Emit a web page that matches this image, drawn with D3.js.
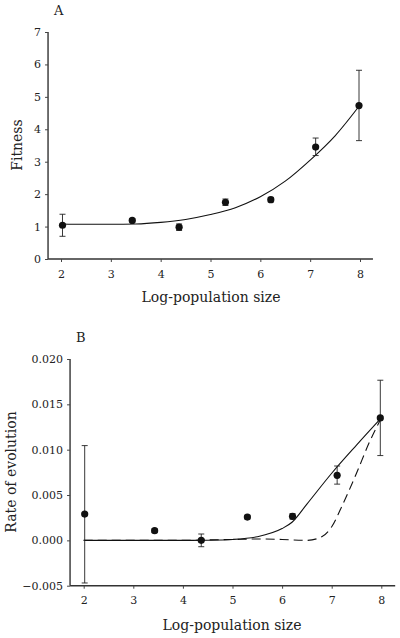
<!DOCTYPE html>
<html><head><meta charset="utf-8">
<script src="https://cdn.jsdelivr.net/npm/d3@7"></script>
<style>body{margin:0;background:#fff}svg{display:block}text{font-family:"DejaVu Serif","Liberation Serif",serif;fill:#222}</style>
</head><body>
<script>
// Panel A data
const aX = [2.03, 3.43, 4.37, 5.30, 6.21, 7.11, 7.98];
const aY = [1.04, 1.19, 0.98, 1.75, 1.83, 3.45, 4.73];
const aLo = [0.70, 1.14, 0.88, 1.65, 1.76, 3.19, 3.65];
const aHi = [1.38, 1.24, 1.08, 1.85, 1.90, 3.73, 5.82];
const aFitX = [2, 2.5, 3, 3.5, 4, 4.5, 5, 5.5, 6, 6.5, 7, 7.5, 8];
const aFitY = [1.08, 1.07, 1.07, 1.08, 1.13, 1.22, 1.37, 1.58, 1.92, 2.40, 3.05, 3.80, 4.75];
const aYTicks = [0, 1, 2, 3, 4, 5, 6, 7];
// Panel B data
const bX = [2.02, 3.43, 4.37, 5.30, 6.21, 7.11, 7.98];
const bY = [0.0029, 0.00107, 0.0000, 0.00257, 0.00265, 0.00717, 0.0135];
const bLo = [-0.0047, 0.00087, -0.0007, 0.00237, 0.00235, 0.0062, 0.00935];
const bHi = [0.01045, 0.00127, 0.0007, 0.00277, 0.00295, 0.0082, 0.01766];
const bSolidX = [2, 3, 4, 4.5, 5, 5.5, 6, 6.2, 6.5, 7, 7.5, 8];
const bSolidY = [0, 0, 0, 0.00002, 0.0001, 0.0004, 0.0013, 0.002, 0.004, 0.0074, 0.0105, 0.0135];
const bDashX = [2, 3, 4, 4.5, 5, 5.5, 6, 6.5, 6.8, 7, 7.2, 7.5, 7.75, 8];
const bDashY = [0, 0, 0, 0.00005, 0.0001, 0.00015, 0.0001, 0.0000, 0.0004, 0.0015, 0.0037, 0.0074, 0.0107, 0.0135];
const bYTicks = [-0.005, 0, 0.005, 0.010, 0.015, 0.020];
const xTicks = [2, 3, 4, 5, 6, 7, 8];

const svg = d3.select("body").append("svg").attr("width", 400).attr("height", 638);

function panel(o) {
  const x = d3.scaleLinear().domain([2, 8]).range(o.xr);
  const y = d3.scaleLinear().domain(o.yd).range(o.yr);
  const g = svg.append("g");
  const xa = g.append("g").attr("transform", `translate(0,${o.yr[0]})`)
    .call(d3.axisBottom(x).tickValues(xTicks).tickSize(3).tickPadding(8).tickFormat(d3.format("d")));
  xa.select(".domain").attr("d", `M${x(o.xExt[0])},0H${x(o.xExt[1])}`);
  const ya = g.append("g").attr("transform", `translate(${x(o.xExt[0])},0)`)
    .call(d3.axisLeft(y).tickValues(o.yTicks).tickSize(3).tickPadding(4).tickFormat(o.yFmt));
  ya.select(".domain").attr("d", `M0,${o.yr[0]}V${o.yr[1]}`);
  [xa, ya].forEach(a => {
    a.selectAll("text").attr("font-size", 11).style("font-family", '"DejaVu Serif",serif').attr("fill", "#222");
    a.selectAll("line").attr("stroke", "#444");
    a.select(".domain").attr("stroke", "#333").attr("stroke-width", 1.4);
  });
  // curves
  o.curves.forEach(c => {
    const line = d3.line().x((d, i) => x(c.xs[i])).y(d => y(d)).curve(d3.curveMonotoneX);
    g.append("path").attr("d", line(c.ys)).attr("fill", "none").attr("stroke", "#111")
      .attr("stroke-width", 1.1).attr("stroke-dasharray", c.dash || null);
  });
  // error bars
  o.px.forEach((px, i) => {
    const cx = x(px);
    g.append("line").attr("x1", cx).attr("x2", cx).attr("y1", y(o.lo[i])).attr("y2", y(o.hi[i])).attr("stroke", "#222").attr("stroke-width", 0.9);
    [o.lo[i], o.hi[i]].forEach(v => g.append("line").attr("x1", cx - 3).attr("x2", cx + 3).attr("y1", y(v)).attr("y2", y(v)).attr("stroke", "#222").attr("stroke-width", 0.9));
    g.append("circle").attr("cx", cx).attr("cy", y(o.py[i])).attr("r", 3.6).attr("fill", "#111");
  });
  g.append("text").attr("x", o.letter[0]).attr("y", o.letter[1]).attr("font-size", 13).text(o.letterT);
  g.append("text").attr("x", o.xl[0]).attr("y", o.xl[1]).attr("text-anchor", "middle").attr("font-size", 14).text("Log-population size");
  g.append("text").attr("transform", `translate(${o.yl[0]},${o.yl[1]}) rotate(-90)`).attr("text-anchor", "middle")
    .attr("font-size", 14).text(o.ylT);
}

panel({
  xr: [61, 360], yd: [0, 7], yr: [259, 32], xExt: [1.74, 8.26], yTicks: aYTicks, yFmt: d3.format("d"),
  curves: [{xs: aFitX, ys: aFitY}],
  px: aX, py: aY, lo: aLo, hi: aHi,
  letter: [54, 15], letterT: "A", xl: [211, 302], yl: [22, 145], ylT: "Fitness"
});
panel({
  xr: [83.7, 381.3], yd: [-0.005, 0.020], yr: [585.7, 359], xExt: [1.725, 8.28], yTicks: bYTicks, yFmt: d3.format(".3f"),
  curves: [{xs: bDashX, ys: bDashY, dash: "9,5"}, {xs: bSolidX, ys: bSolidY}],
  px: bX, py: bY, lo: bLo, hi: bHi,
  letter: [76, 342], letterT: "B", xl: [232, 630], yl: [16, 472], ylT: "Rate of evolution"
});
</script>
</body></html>
